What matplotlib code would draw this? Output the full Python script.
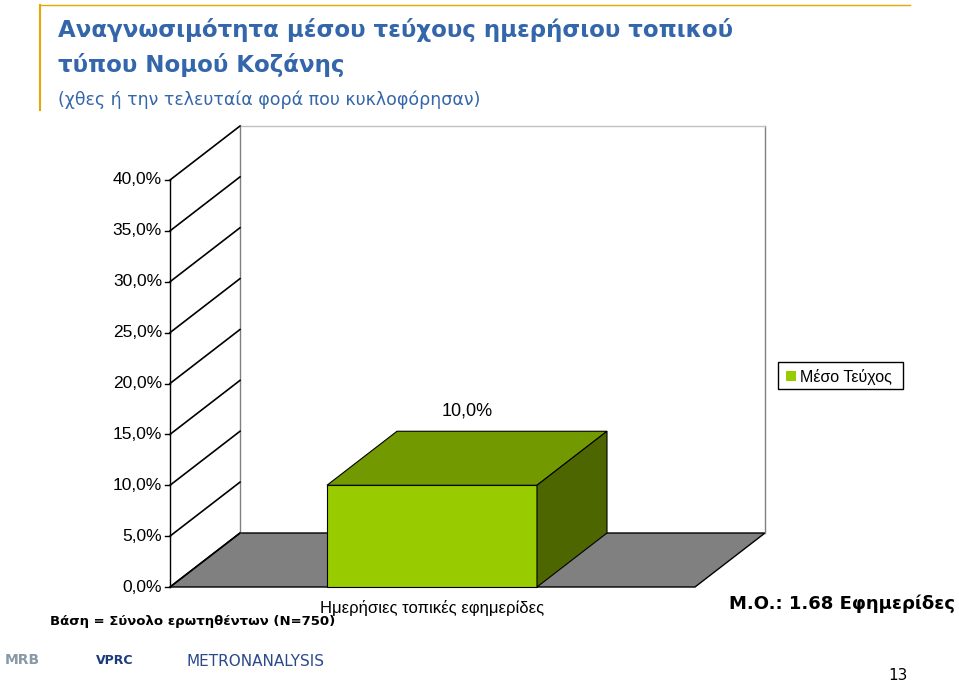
import matplotlib
matplotlib.use("Agg")
import matplotlib.pyplot as plt
from matplotlib.patches import Polygon

categories = ["Ημερήσιες τοπικές εφημερίδες"]
values = [10.0]
yticks = [0, 5, 10, 15, 20, 25, 30, 35, 40]
series_name = "Μέσο Τεύχος"

W, H = 959, 681
fig = plt.figure(figsize=(W/100, H/100), dpi=100)
ax = fig.add_axes([0, 0, 1, 1])
ax.set_xlim(0, W); ax.set_ylim(H, 0); ax.axis("off")

x0, y0, ppv = 170, 587, (587-180)/40.0
dx, dy = 70, -54
right = 695
def Y(v): return y0 - v*ppv

ax.add_patch(Polygon([(x0, y0), (right, y0), (right+dx, y0+dy), (x0+dx, y0+dy)],
                     closed=True, fc="#808080", ec="black", lw=1))
ax.plot([x0+dx, x0+dx], [y0+dy, Y(40)+dy], color="#808080", lw=1)
ax.plot([right+dx, right+dx], [y0+dy, Y(40)+dy], color="#808080", lw=1)
ax.plot([x0+dx, right+dx], [Y(40)+dy, Y(40)+dy], color="#c0c0c0", lw=1)
ax.plot([x0, x0], [y0, Y(40)], color="black", lw=1)
for t in yticks:
    ax.plot([x0, x0+dx], [Y(t), Y(t)+dy], color="black", lw=1.2)
    ax.plot([x0-5, x0], [Y(t), Y(t)], color="black", lw=1)
    ax.text(x0-8, Y(t), f"{t},0%", ha="right", va="center", fontsize=12.5, family="Liberation Sans")

bl, br = 327, 537
bdx, bdy = 70, -54
for v in values:
    yt = Y(v)
    ax.add_patch(Polygon([(bl, y0), (br, y0), (br, yt), (bl, yt)], fc="#99cc00", ec="black", lw=0.8))
    ax.add_patch(Polygon([(bl, yt), (br, yt), (br+bdx, yt+bdy), (bl+bdx, yt+bdy)], fc="#739900", ec="black", lw=0.8))
    ax.add_patch(Polygon([(br, y0), (br+bdx, y0+bdy), (br+bdx, yt+bdy), (br, yt)], fc="#4d6600", ec="black", lw=0.8))
    ax.text((bl+br)/2+bdx/2, yt+bdy-20, f"{v:.1f}%".replace(".", ","), ha="center", va="center", fontsize=13, family="Liberation Sans")
ax.text(432, 608, categories[0], ha="center", va="center", fontsize=12, family="Liberation Sans")

ax.add_patch(Polygon([(778, 362), (903, 362), (903, 389), (778, 389)], fc="white", ec="black", lw=1))
ax.add_patch(Polygon([(786, 371), (796, 371), (796, 381), (786, 381)], fc="#99cc00", ec="none"))
ax.text(800, 377, series_name, ha="left", va="center", fontsize=11.5, family="Liberation Sans")

ax.plot([40, 40], [5, 110], color="#e6a800", lw=1.5)
ax.plot([40, 910], [5, 5], color="#e6a800", lw=1)
ax.text(58, 30, "Αναγνωσιμότητα μέσου τεύχους ημερήσιου τοπικού", fontsize=16.5, weight="bold", color="#3366aa", va="center")
ax.text(58, 65, "τύπου Νομού Κοζάνης", fontsize=16.5, weight="bold", color="#3366aa", va="center")
ax.text(58, 100, "(χθες ή την τελευταία φορά που κυκλοφόρησαν)", fontsize=12.5, color="#3366aa", va="center")
ax.text(50, 621, "Βάση = Σύνολο ερωτηθέντων (N=750)", fontsize=9.5, weight="bold", va="center")
ax.text(955, 604, "M.O.: 1.68 Εφημερίδες", fontsize=13, weight="bold", va="center", ha="right")
ax.text(898, 675, "13", fontsize=11, ha="center", va="center")
ax.text(22, 660, "MRB", fontsize=10, weight="bold", color="#8899aa", ha="center", va="center")
ax.text(115, 660, "VPRC", fontsize=9, weight="bold", color="#1a3a7a", ha="center", va="center")
ax.text(255, 661, "METRONANALYSIS", fontsize=11, color="#2a4a8a", ha="center", va="center")

fig.savefig("out.png", dpi=100)
